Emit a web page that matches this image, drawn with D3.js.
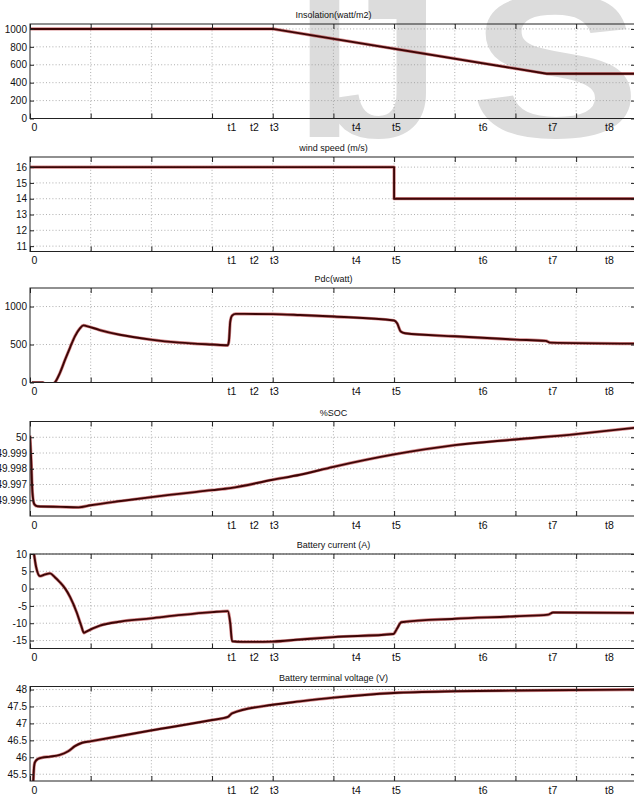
<!DOCTYPE html>
<html>
<head>
<meta charset="utf-8">
<script src="https://cdn.jsdelivr.net/npm/d3@7"></script>
<style>
  html, body { margin: 0; padding: 0; background: #fff; }
  svg { display: block; font-family: "Liberation Sans", Arial, Helvetica, sans-serif; }
</style>
</head>
<body>
<svg id="chart" width="634" height="795"></svg>
<script>
// ---- time axis: grid every unit, event markers labelled separately ----
const gridTimes = [0, 1, 2, 3, 4, 5, 6, 7, 8, 9];
const eventNames = ["0", "t1", "t2", "t3", "t4", "t5", "t6", "t7", "t8"];
const eventTimes = [0.066, 3.32, 3.69, 4.02, 5.37, 6.03, 7.46, 8.61, 9.54];

// ---- Insolation (W/m2) ----
const insolationT = [0, 4.0, 8.52, 9.97];
const insolationV = [1000, 1000, 500, 500];

// ---- Wind speed (m/s) ----
const windT = [0, 6.0, 6.0, 9.97];
const windV = [16, 16, 14, 14];

// ---- Pdc (W) ----
const pdcT = [0.03, 0.12, 0.21, 0.26, 0.3, 0.36, 0.41, 0.49, 0.58, 0.66, 0.74, 0.82, 0.88, 0.92,
  1.15, 1.48, 1.99, 2.47, 3.0, 3.26, 3.28, 3.30, 3.33, 3.39, 4.0, 4.45, 5.01, 6.0, 6.05, 6.11, 6.18,
  7.0, 8.0, 8.5, 8.57, 9.97];
const pdcV = [0, 0, 0, -30, -45, -25, 0, 120, 304, 460, 608, 710, 752, 746,
  690, 628, 565, 525, 500, 490, 560, 800, 880, 903, 900, 888, 868, 816, 780, 670, 648,
  608, 565, 548, 525, 512];

// ---- State of charge (%) ----
const socT = [0, 0.02, 0.04, 0.07, 0.12, 0.5, 0.8, 1.0, 1.5, 2.0, 3.0, 3.3, 4.0, 4.45, 5.0, 6.0,
  7.0, 8.0, 9.0, 9.97];
const socV = [50.0001, 49.9985, 49.9965, 49.99575, 49.99562, 49.99558, 49.99555, 49.99568,
  49.99595, 49.9962, 49.99664, 49.99677, 49.9973, 49.99762, 49.99812, 49.99891,
  49.9995, 49.99986, 50.0002, 50.0006];

// ---- Battery current (A) ----
const currentT = [0.03, 0.066, 0.1, 0.165, 0.25, 0.33, 0.41, 0.49, 0.58, 0.66, 0.77, 0.84, 0.89, 0.92,
  1.15, 1.5, 1.99, 2.5, 3.0, 3.26, 3.30, 3.33, 3.5, 4.0, 4.45, 5.0, 5.99, 6.05, 6.12,
  7.0, 8.0, 8.54, 8.62, 9.97];
const currentV = [14, 10, 6.3, 3.6, 4.1, 4.4, 3.3, 1.9, 0, -2.4, -6.9, -10.5, -12.8, -12.5,
  -10.7, -9.5, -8.6, -7.6, -6.8, -6.5, -10, -15.2, -15.4, -15.3, -14.7, -14.0, -13.1, -11.5, -9.7,
  -8.7, -8.0, -7.5, -6.9, -7.0];

// ---- Battery terminal voltage (V) ----
const voltT = [0.02, 0.05, 0.066, 0.08, 0.13, 0.2, 0.33, 0.49, 0.63, 0.74, 0.86, 0.99, 1.99, 3.0,
  3.26, 3.33, 4.0, 4.45, 5.0, 6.0, 7.0, 8.0, 9.97];
const voltV = [44.9, 45.2, 45.7, 45.85, 45.95, 45.99, 46.02, 46.07, 46.18, 46.33, 46.43, 46.47,
  46.79, 47.1, 47.19, 47.3, 47.55, 47.65, 47.76, 47.9, 47.95, 47.97, 48.0];

// ---- y-axis ticks per panel ----
const insolationTicks = [0, 200, 400, 600, 800, 1000];
const windTicks = [11, 12, 13, 14, 15, 16];
const pdcTicks = [0, 500, 1000];
const socTicks = [49.996, 49.997, 49.998, 49.999, 50];
const currentTicks = [-15, -10, -5, 0, 5, 10];
const voltTicks = [45.5, 46, 46.5, 47, 47.5, 48];

// ---- panel assembly (piecewise inputs drawn straight, simulated signals smoothed) ----
const panels = [
  { title: "Insolation(watt/m2)", t: insolationT, v: insolationV, domain: [0, 1055], ticks: insolationTicks, smooth: false },
  { title: "wind speed (m/s)", t: windT, v: windV, domain: [10.66, 16.64], ticks: windTicks, smooth: false },
  { title: "Pdc(watt)", t: pdcT, v: pdcV, domain: [0, 1244], ticks: pdcTicks, smooth: true },
  { title: "%SOC", t: socT, v: socV, domain: [49.995, 50.001], ticks: socTicks, smooth: true },
  { title: "Battery current (A)", t: currentT, v: currentV, domain: [-17.3, 10], ticks: currentTicks, smooth: true },
  { title: "Battery terminal voltage (V)", t: voltT, v: voltV, domain: [45.3, 48.09], ticks: voltTicks, smooth: true }
];

// layout
const panelTops = [24, 157, 288, 421.5, 554, 686.5];
const panelH = 94.5;
const left = 30, right = 635;

const svg = d3.select("#chart");

// faint background lettering
const wm = svg.append("g").attr("fill", "#dcdcdc")
  .style("font-family", "'Liberation Sans', Arial, sans-serif")
  .style("font-weight", "bold").style("font-size", "205px");
wm.append("text").attr("x", 296).attr("y", 137).text("I");
wm.append("text").attr("x", 326).attr("y", 137).text("J");
wm.append("text").attr("x", 470).attr("y", 137)
  .attr("transform", "translate(470,0) scale(1.25,1) translate(-470,0)").text("S");

const x = d3.scaleLinear().domain([0, 9.97]).range([left, right]);

panels.forEach((p, i) => {
  const top = panelTops[i];
  const bottom = top + panelH;
  const y = d3.scaleLinear().domain(p.domain).range([bottom, top]);
  const g = svg.append("g");

  const clipId = "clip" + i;
  svg.append("clipPath").attr("id", clipId)
    .append("rect").attr("x", left).attr("y", top).attr("width", right - left).attr("height", panelH);

  // dotted grid
  const grid = g.append("g").attr("stroke", "#9a9a9a").attr("stroke-width", 0.8)
    .attr("stroke-dasharray", "1,2.2");
  grid.selectAll("line.v").data(gridTimes.slice(1)).join("line")
    .attr("x1", d => x(d)).attr("x2", d => x(d)).attr("y1", top).attr("y2", bottom);
  grid.selectAll("line.h").data(p.ticks).join("line")
    .attr("x1", left).attr("x2", right).attr("y1", d => y(d)).attr("y2", d => y(d));

  // signal trace
  const pts = p.t.map((t, k) => [t, p.v[k]]);
  const line = d3.line().x(d => x(d[0])).y(d => y(d[1]))
    .curve(p.smooth ? d3.curveMonotoneX : d3.curveLinear);
  const trace = g.append("g").attr("clip-path", `url(#${clipId})`);
  trace.append("path").datum(pts).attr("d", line)
    .attr("fill", "none").attr("stroke", "#b3262a").attr("stroke-width", 3.2)
    .attr("stroke-opacity", 0.55).attr("stroke-linejoin", "round");
  trace.append("path").datum(pts).attr("d", line)
    .attr("fill", "none").attr("stroke", "#3d0606").attr("stroke-width", 1.9)
    .attr("stroke-linejoin", "round");

  // axes (ticks point inward)
  const axL = g.append("g").attr("transform", `translate(${left},0)`)
    .call(d3.axisLeft(y).tickValues(p.ticks).tickSize(-4).tickPadding(3).tickFormat(d => String(d)));
  const axR = g.append("g").attr("transform", `translate(${right},0)`)
    .call(d3.axisRight(y).tickValues(p.ticks).tickSize(-4).tickFormat(""));
  const axB = g.append("g").attr("transform", `translate(0,${bottom})`)
    .call(d3.axisBottom(x).tickValues(gridTimes).tickSize(-5).tickFormat(""));
  const axT = g.append("g").attr("transform", `translate(0,${top})`)
    .call(d3.axisTop(x).tickValues(gridTimes).tickSize(-5).tickFormat(""));
  [axL, axR, axB, axT].forEach(a => {
    a.select(".domain").remove();
    a.selectAll(".tick line").attr("stroke", "#222").attr("stroke-width", 1);
  });
  axL.selectAll("text").attr("fill", "#111").style("font-size", "10px");

  // event labels under the axis
  const axE = g.append("g").attr("transform", `translate(0,${bottom})`)
    .call(d3.axisBottom(x).tickValues(eventTimes).tickSize(0).tickPadding(5.5)
      .tickFormat((d, k) => eventNames[k]));
  axE.select(".domain").remove();
  axE.selectAll("text").attr("fill", "#111").style("font-size", "10.5px");

  // frame
  g.append("rect").attr("x", left).attr("y", top).attr("width", right - left).attr("height", panelH)
    .attr("fill", "none").attr("stroke", "#222").attr("stroke-width", 1);

  // title
  g.append("text").attr("x", (left + 637) / 2).attr("y", top - 6)
    .attr("text-anchor", "middle").attr("fill", "#111").style("font-size", "9px")
    .text(p.title);
});
</script>
</body>
</html>
